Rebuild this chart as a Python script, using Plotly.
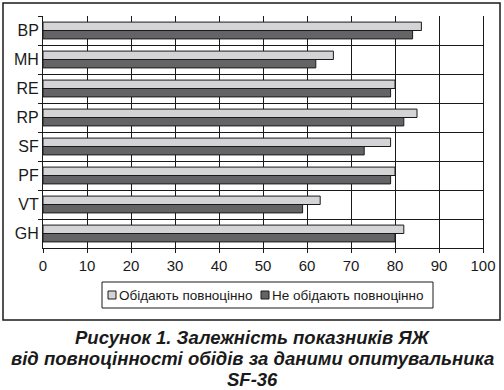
import plotly.graph_objects as go

categories = ["BP", "MH", "RE", "RP", "SF", "PF", "VT", "GH"]
full_meals = [86, 66, 80, 85, 79, 80, 63, 82]
not_full_meals = [84, 62, 79, 82, 73, 79, 59, 80]
series_names = ["Обідають повноцінно", "Не обідають повноцінно"]
series_colors = ["#D4D4D6", "#646466"]
x_ticks = [0, 10, 20, 30, 40, 50, 60, 70, 80, 90, 100]
caption = ["Рисунок 1. Залежність показників ЯЖ",
           "від повноцінності обідів за даними опитувальника",
           "SF-36"]

W, H = 504, 390
L, R, T, B = 43, 21, 16, 142
pw, ph = W - L - R, H - T - B
INK = "#1a1a1a"

def px_x(x):
    return (x - L) / pw

def px_y(y):
    return (H - B - y) / ph

font_main = "Liberation Sans Narrow, Arial Narrow, Liberation Sans, Arial"

fig = go.Figure()
for name, vals, col in zip(series_names, [full_meals, not_full_meals], series_colors):
    fig.add_trace(go.Bar(y=categories, x=vals, orientation="h", name=name,
                         marker=dict(color=col, line=dict(color=INK, width=1))))

fig.update_layout(
    width=W, height=H,
    margin=dict(l=L, r=R, t=T, b=B, autoexpand=False),
    paper_bgcolor="white", plot_bgcolor="white",
    barmode="group", bargap=0.42, bargroupgap=0.0,
    font=dict(family=font_main, color=INK),
    showlegend=False,
    xaxis=dict(range=[0, 100], tickvals=x_ticks, ticks="outside", ticklen=4, tickcolor=INK,
               showgrid=True, gridcolor=INK, gridwidth=1, zeroline=False,
               showline=True, linecolor=INK, linewidth=1,
               tickfont=dict(size=15, family=font_main)),
    yaxis=dict(autorange="reversed", type="category", tickson="boundaries", ticks="outside",
               ticklen=4, tickcolor=INK, showgrid=True, gridcolor=INK, gridwidth=1,
               showline=True, linecolor=INK, linewidth=1, mirror=True,
               tickfont=dict(size=16, family=font_main)),
)

# outer border
fig.add_shape(type="rect", xref="paper", yref="paper",
              x0=px_x(3), x1=px_x(500), y0=px_y(320), y1=px_y(3),
              line=dict(color=INK, width=1.5), fillcolor="rgba(0,0,0,0)", layer="below")

# legend box (drawn to match the compact original legend)
fig.add_shape(type="rect", xref="paper", yref="paper",
              x0=px_x(102), x1=px_x(433), y0=px_y(308), y1=px_y(282),
              line=dict(color=INK, width=1), fillcolor="white")
for name, col, sx in zip(series_names, series_colors, [108, 261]):
    fig.add_shape(type="rect", xref="paper", yref="paper",
                  x0=px_x(sx), x1=px_x(sx + 8), y0=px_y(299), y1=px_y(291),
                  line=dict(color=INK, width=1), fillcolor=col)
    fig.add_annotation(text=name, xref="paper", yref="paper",
                       x=px_x(sx + 9), y=px_y(295), xanchor="left", yanchor="middle",
                       showarrow=False, font=dict(size=13.5, family=font_main, color=INK))

for text, yc in zip(caption, [337.5, 358.5, 379.3]):
    fig.add_annotation(text="<b><i>" + text + "</i></b>", xref="paper", yref="paper",
                       x=px_x(252), y=px_y(yc), xanchor="center", yanchor="middle",
                       showarrow=False, borderpad=0,
                       font=dict(size=18.5, family="Liberation Sans, Arial", color=INK))

fig.write_html("out.html", config={"displayModeBar": False},
               post_script="document.body.style.margin='0';document.body.style.padding='0';")
